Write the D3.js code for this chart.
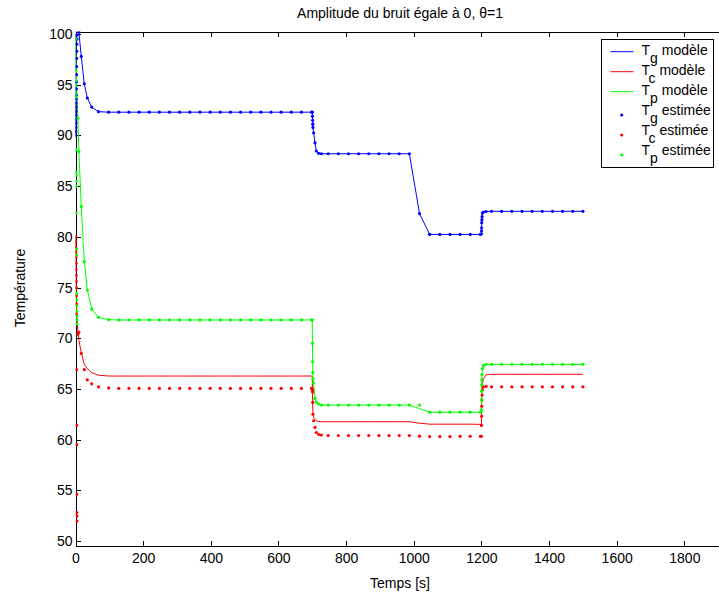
<!DOCTYPE html>
<html>
<head>
<meta charset="utf-8">
<script src="https://cdn.jsdelivr.net/npm/d3@7"></script>
<style>
  html, body { margin: 0; padding: 0; background: #fff; }
  svg { display: block; font-family: "Liberation Sans", Arial, sans-serif; }
  .axis path, .axis line { stroke: #000; shape-rendering: crispEdges; }
  .axis text { font-size: 14px; fill: #000; font-family: "Liberation Sans", Arial, sans-serif; }
</style>
</head>
<body>
<svg id="chart" width="719" height="596"></svg>
<script>
// ---------------- DATA ----------------
const xTicks = [0, 200, 400, 600, 800, 1000, 1200, 1400, 1600, 1800];
const yTicks = [50, 55, 60, 65, 70, 75, 80, 85, 90, 95, 100];
const legendLabels = [
  { sub: "g", text: "modèle", kind: "line", color: "#0000ff" },
  { sub: "c", text: "modèle", kind: "line", color: "#ff0000" },
  { sub: "p", text: "modèle", kind: "line", color: "#00ff00" },
  { sub: "g", text: "estimée", kind: "dot", color: "#0000ff" },
  { sub: "c", text: "estimée", kind: "dot", color: "#ff0000" },
  { sub: "p", text: "estimée", kind: "dot", color: "#00ff00" }
];

// model time points [s]
const tModel = [0, 1, 2, 4, 7, 10, 17, 26, 35, 48, 68,
  98, 128, 158, 188, 218, 248, 278, 308, 338, 368, 398, 428, 458, 488, 518, 548, 578, 608, 638, 668, 698,
  700, 700.5, 701, 701.5, 702, 704, 708, 712, 719, 727,
  747, 777, 807, 837, 867, 897, 927, 957, 987,
  1017, 1047, 1077, 1107, 1137, 1167, 1197,
  1200, 1200.3, 1200.6, 1201, 1201.5, 1202, 1203, 1206, 1214,
  1230, 1260, 1290, 1320, 1350, 1380, 1410, 1440, 1470, 1500];

const tgModel = [90, 97, 101, 103, 102, 100.2, 97.8, 95.1, 93.7, 92.8, 92.35,
  92.3, 92.3, 92.3, 92.3, 92.3, 92.3, 92.3, 92.3, 92.3, 92.3, 92.3, 92.3, 92.3, 92.3, 92.3, 92.3, 92.3, 92.3, 92.3, 92.3, 92.3,
  92.3, 91.9, 91.5, 91.12, 90.8, 90.26, 89.28, 88.47, 88.24, 88.2,
  88.2, 88.2, 88.2, 88.2, 88.2, 88.2, 88.2, 88.2, 88.2,
  82.3, 80.24, 80.24, 80.24, 80.24, 80.24, 80.24,
  80.3, 80.6, 80.9, 81.4, 81.7, 82.0, 82.35, 82.45, 82.5,
  82.52, 82.52, 82.52, 82.52, 82.52, 82.52, 82.52, 82.52, 82.52, 82.52];

const tcModel = [80, 77, 74.5, 72, 70.7, 69.8, 68.6, 67.4, 67.0, 66.6, 66.35,
  66.27, 66.27, 66.27, 66.27, 66.27, 66.27, 66.27, 66.27, 66.27, 66.27, 66.27, 66.27, 66.27, 66.27, 66.27, 66.27, 66.27, 66.27, 66.27, 66.27, 66.27,
  66.27, 65.0, 63.8, 63.0, 62.6, 62.2, 62.0, 61.85, 61.78, 61.76,
  61.76, 61.76, 61.76, 61.76, 61.76, 61.76, 61.76, 61.76, 61.76,
  61.62, 61.52, 61.52, 61.52, 61.52, 61.52, 61.5,
  61.4, 62.5, 63.5, 64.3, 64.8, 65.2, 65.5, 66.0, 66.4,
  66.44, 66.44, 66.44, 66.44, 66.44, 66.44, 66.44, 66.44, 66.44, 66.44];

const tpModel = [100, 98, 96.5, 94, 91.7, 88.4, 83.0, 77.55, 74.75, 72.88, 72.06,
  71.83, 71.8, 71.8, 71.8, 71.8, 71.8, 71.8, 71.8, 71.8, 71.8, 71.8, 71.8, 71.8, 71.8, 71.8, 71.8, 71.8, 71.8, 71.8, 71.8, 71.8,
  71.8, 69.5, 67.7, 66.6, 66.0, 65.6, 64.06, 63.7, 63.5, 63.4,
  63.4, 63.4, 63.4, 63.4, 63.4, 63.4, 63.4, 63.4, 63.4,
  63.05, 62.7, 62.7, 62.7, 62.7, 62.7, 62.7,
  62.9, 63.9, 64.8, 65.4, 65.9, 66.4, 67.0, 67.3, 67.42,
  67.42, 67.42, 67.42, 67.42, 67.42, 67.42, 67.42, 67.42, 67.42, 67.42];

// estimator time points [s]: start-up burst, then same grid as the model from t = 7 s
const tEst = [0.5, 0.7, 0.9, 1.1, 1.3, 1.5, 1.7, 1.9, 2.1, 2.3, 2.5, 2.7, 2.9, 3.1, 3.3, 3.5, 3.7, 3.9, 4.1, 4.3,
  7, 10, 17, 26, 35, 48, 68,
  98, 128, 158, 188, 218, 248, 278, 308, 338, 368, 398, 428, 458, 488, 518, 548, 578, 608, 638, 668, 698,
  700, 700.5, 701, 701.5, 702, 704, 708, 712, 719, 727,
  747, 777, 807, 837, 867, 897, 927, 957, 987,
  1017, 1047, 1077, 1107, 1137, 1167, 1197,
  1200, 1200.3, 1200.6, 1201, 1201.5, 1202, 1203, 1206, 1214,
  1230, 1260, 1290, 1320, 1350, 1380, 1410, 1440, 1470, 1500];

const tgEst = [90.0, 90.4, 90.8, 91.2, 91.6, 92.0, 92.4, 92.8, 93.2, 93.6, 94.0, 94.6, 95.3, 96.0, 96.8, 97.6, 98.3, 99.0, 99.5, 99.9,
  102, 100.2, 97.8, 95.1, 93.7, 92.8, 92.35,
  92.3, 92.3, 92.3, 92.3, 92.3, 92.3, 92.3, 92.3, 92.3, 92.3, 92.3, 92.3, 92.3, 92.3, 92.3, 92.3, 92.3, 92.3, 92.3, 92.3, 92.3,
  92.3, 91.9, 91.5, 91.12, 90.8, 90.26, 89.28, 88.47, 88.24, 88.2,
  88.2, 88.2, 88.2, 88.2, 88.2, 88.2, 88.2, 88.2, 88.2,
  82.3, 80.24, 80.24, 80.24, 80.24, 80.24, 80.24,
  80.3, 80.6, 80.9, 81.4, 81.7, 82.0, 82.35, 82.45, 82.5,
  82.52, 82.52, 82.52, 82.52, 82.52, 82.52, 82.52, 82.52, 82.52, 82.52];

const tcEst = [80.0, 79.5, 79.0, 78.5, 78.0, 77.4, 76.8, 76.2, 75.6, 75.0, 74.2, 73.4, 72.4, 66.9, 61.4, 59.5, 54.6, 52.8, 52.45, 51.96,
  70.4, 70.6, 68.5, 66.9, 65.9, 65.5, 65.2,
  65.1, 65.05, 65.05, 65.05, 65.05, 65.05, 65.05, 65.05, 65.05, 65.05, 65.05, 65.05, 65.05, 65.05, 65.05, 65.05, 65.05, 65.05, 65.05, 65.05, 65.05,
  65.0, 64.9, 64.7, 63.67, 62.5, 61.86, 61.2, 60.7, 60.5, 60.45,
  60.4, 60.4, 60.4, 60.4, 60.4, 60.4, 60.4, 60.4, 60.4,
  60.34, 60.3, 60.3, 60.3, 60.32, 60.33, 60.33,
  60.33, 61.4, 62.3, 63.3, 63.9, 64.4, 64.9, 65.2, 65.25,
  65.2, 65.2, 65.2, 65.2, 65.2, 65.2, 65.2, 65.2, 65.2, 65.2];

const tpEst = [99.5, 96.4, 95.4, 94.1, 93.8, 88.6, 86.4, 86.1, 85.5, 85.0, 82.35, 78.8, 78.2, 74.4, 73.8, 73.2, 72.7, 72.2, 71.8, 71.4,
  91.7, 88.4, 83.0, 77.55, 74.75, 72.88, 72.06,
  71.83, 71.8, 71.8, 71.8, 71.8, 71.8, 71.8, 71.8, 71.8, 71.8, 71.8, 71.8, 71.8, 71.8, 71.8, 71.8, 71.8, 71.8, 71.8, 71.8, 71.8,
  71.8, 69.5, 67.7, 66.6, 66.0, 65.6, 64.06, 63.7, 63.5, 63.4,
  63.4, 63.4, 63.4, 63.4, 63.4, 63.4, 63.4, 63.4, 63.4,
  63.4, 62.7, 62.7, 62.7, 62.7, 62.7, 62.7,
  62.9, 63.9, 64.8, 65.4, 65.9, 66.4, 67.0, 67.3, 67.42,
  67.42, 67.42, 67.42, 67.42, 67.42, 67.42, 67.42, 67.42, 67.42, 67.42];

// ---------------- CHART ----------------
const svg = d3.select("#chart");
const plotLeft = 75.5, plotRight = 752, plotTop = 31.5, plotBottom = 545.5;
const x = d3.scaleLinear().domain([0, 2000]).range([plotLeft, plotRight]);
const y = d3.scaleLinear().domain([49.55, 100.26]).range([plotBottom, plotTop]);

svg.append("defs").append("clipPath").attr("id", "plotclip")
  .append("rect").attr("x", plotLeft).attr("y", plotTop)
  .attr("width", plotRight - plotLeft).attr("height", plotBottom - plotTop);

// axes
svg.append("g").attr("class", "axis").attr("transform", `translate(0,${plotBottom})`)
  .call(d3.axisBottom(x).tickValues(xTicks).tickSizeInner(-5).tickSizeOuter(0).tickPadding(8).tickFormat(d3.format("d")));
svg.append("g").attr("class", "axis").attr("transform", `translate(0,${plotTop})`)
  .call(d3.axisTop(x).tickValues(xTicks).tickSizeInner(-5).tickSizeOuter(0).tickFormat(""));
svg.append("g").attr("class", "axis").attr("transform", `translate(${plotLeft},0)`)
  .call(d3.axisLeft(y).tickValues(yTicks).tickSizeInner(-5).tickSizeOuter(0).tickPadding(3).tickFormat(d3.format("d")));
svg.append("g").attr("class", "axis").attr("transform", `translate(${plotRight},0)`)
  .call(d3.axisRight(y).tickValues(yTicks).tickSizeInner(-5).tickSizeOuter(0).tickFormat(""));

const plot = svg.append("g").attr("clip-path", "url(#plotclip)");
const line = d3.line().x(d => x(d[0])).y(d => y(d[1]));

const models = [
  { vals: tgModel, color: "#0000ff" },
  { vals: tcModel, color: "#ff0000" },
  { vals: tpModel, color: "#00ff00" }
];
models.forEach(m => {
  plot.append("path")
    .datum(tModel.map((t, i) => [t, m.vals[i]]))
    .attr("fill", "none").attr("stroke", m.color).attr("stroke-width", 1)
    .attr("d", line);
});

const ests = [
  { vals: tgEst, color: "#0000ff" },
  { vals: tcEst, color: "#ff0000" },
  { vals: tpEst, color: "#00ff00" }
];
ests.forEach(e => {
  plot.append("g").selectAll("circle")
    .data(tEst.map((t, i) => [t, e.vals[i]]))
    .join("circle")
    .attr("cx", d => x(d[0])).attr("cy", d => y(d[1]))
    .attr("r", 1.6).attr("fill", e.color);
});

// titles
svg.append("text").attr("x", 400).attr("y", 17.5).attr("text-anchor", "middle")
  .attr("font-size", 14).text("Amplitude du bruit égale à 0, θ=1");
svg.append("text").attr("x", 400).attr("y", 588).attr("text-anchor", "middle")
  .attr("font-size", 14).text("Temps [s]");
svg.append("text").attr("transform", "translate(25,288) rotate(-90)").attr("text-anchor", "middle")
  .attr("font-size", 14).text("Température");

// legend
const lg = svg.append("g");
lg.append("rect").attr("x", 601.5).attr("y", 39.5).attr("width", 112).attr("height", 128)
  .attr("fill", "#fff").attr("stroke", "#000").attr("stroke-width", 1);
legendLabels.forEach((d, i) => {
  const cy = 51.7 + i * 20;
  if (d.kind === "line") {
    lg.append("line").attr("x1", 610.5).attr("x2", 633.5).attr("y1", cy).attr("y2", cy)
      .attr("stroke", d.color).attr("stroke-width", 1);
  } else {
    lg.append("circle").attr("cx", 621.7).attr("cy", cy + 3.3).attr("r", 1.6).attr("fill", d.color);
  }
  const t = lg.append("text").attr("x", 641.5).attr("y", cy + 3.5).attr("font-size", 14);
  t.append("tspan").text("T");
  t.append("tspan").attr("dy", 7.5).text(d.sub);
  t.append("tspan").attr("dy", -7.5).text(" " + d.text);
});
</script>
</body>
</html>
